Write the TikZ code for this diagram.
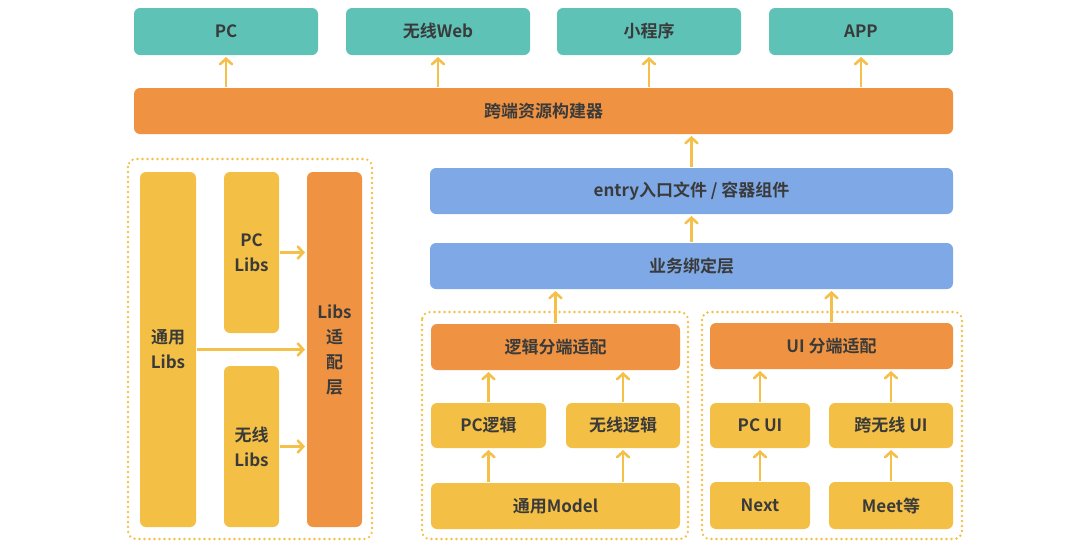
\documentclass[tikz,border=0pt]{standalone}
\usepackage{fontspec}
\setmainfont{Noto Sans CJK SC}[BoldFont={* Bold}]
\usetikzlibrary{arrows.meta}
\definecolor{teal1}{HTML}{5EC2B7}
\definecolor{org1}{HTML}{EF9342}
\definecolor{yel1}{HTML}{F3BF45}
\definecolor{blu1}{HTML}{7FA9E6}
\definecolor{arrc}{HTML}{F5C04A}
\definecolor{txt}{HTML}{3A3A3A}
\tikzset{
  box/.style={rounded corners=6pt, inner sep=0pt, outer sep=0pt, text=txt,
    font=\fontsize{17}{25}\selectfont\bfseries, align=center},
  tealbox/.style={box, fill=teal1},
  orgbox/.style={box, fill=org1},
  yelbox/.style={box, fill=yel1},
  blubox/.style={box, fill=blu1},
  arr/.style={draw=arrc, line width=2.6pt, -{Straight Barb[length=5.5pt,width=12pt,line cap=round]}, shorten >=2pt, shorten <=1pt},
  group/.style={draw=yel1, line width=2.6pt, dash pattern=on 0pt off 5pt, line cap=round, rounded corners=8pt}
}
\begin{document}
\begin{tikzpicture}[x=1pt,y=-1pt]
\useasboundingbox (0,0) rectangle (1080,550);
% groups
\draw[group] (128,159) rectangle (372,539);
\draw[group] (422,312) rectangle (688,539);
\draw[group] (702,312) rectangle (962,539);
% top
\node[tealbox, minimum width=184pt, minimum height=47pt] (pc) at (226,31.5) {PC};
\node[tealbox, minimum width=184pt, minimum height=47pt] (web) at (438,31.5) {无线Web};
\node[tealbox, minimum width=184pt, minimum height=47pt] (mini) at (649,31.5) {小程序};
\node[tealbox, minimum width=184pt, minimum height=47pt] (app) at (861,31.5) {APP};
\node[orgbox, minimum width=819pt, minimum height=46pt] (build) at (543.5,111) {跨端资源构建器};
\node[blubox, minimum width=523pt, minimum height=46pt] (entry) at (691.5,191) {entry入口文件 / 容器组件};
\node[blubox, minimum width=523pt, minimum height=46pt] (bind) at (691.5,266) {业务绑定层};
% left libs
\node[yelbox, minimum width=56pt, minimum height=355pt] (ty) at (168,349.5) {通用\\Libs};
\node[yelbox, minimum width=55pt, minimum height=161pt] (pclibs) at (251.5,252.5) {PC\\Libs};
\node[yelbox, minimum width=55pt, minimum height=161pt] (wllibs) at (251.5,446.5) {无线\\Libs};
\node[orgbox, minimum width=55pt, minimum height=355pt] (libsad) at (334.5,349.5) {Libs\\适\\配\\层};
% logic
\node[orgbox, minimum width=249pt, minimum height=46pt] (logic) at (555.5,347) {逻辑分端适配};
\node[yelbox, minimum width=115pt, minimum height=45pt] (pcl) at (488.5,425.5) {PC逻辑};
\node[yelbox, minimum width=114pt, minimum height=45pt] (wll) at (623,425.5) {无线逻辑};
\node[yelbox, minimum width=249pt, minimum height=46pt] (model) at (555.5,506) {通用Model};
% ui
\node[orgbox, minimum width=243pt, minimum height=46pt] (ui) at (831.5,346) {UI 分端适配};
\node[yelbox, minimum width=100pt, minimum height=45pt] (pcui) at (760,425.5) {PC UI};
\node[yelbox, minimum width=124pt, minimum height=45pt] (kwui) at (891,425.5) {跨无线 UI};
\node[yelbox, minimum width=100pt, minimum height=47pt] (next) at (760,505.5) {Next};
\node[yelbox, minimum width=124pt, minimum height=47pt] (meet) at (891,505.5) {Meet等};
% arrows top
\draw[arr] (pc.south |- build.north) -- (pc.south);
\draw[arr] (web.south |- build.north) -- (web.south);
\draw[arr] (mini.south |- build.north) -- (mini.south);
\draw[arr] (app.south |- build.north) -- (app.south);
\draw[arr] (entry.north) -- (entry.north |- build.south);
\draw[arr] (bind.north) -- (bind.north |- entry.south);
\draw[arr] (logic.north) -- (logic.north |- bind.south);
\draw[arr] (ui.north) -- (ui.north |- bind.south);
% logic arrows
\draw[arr] (pcl.north) -- (pcl.north |- logic.south);
\draw[arr] (wll.north) -- (wll.north |- logic.south);
\draw[arr] (pcl.south |- model.north) -- (pcl.south);
\draw[arr] (wll.south |- model.north) -- (wll.south);
% ui arrows
\draw[arr] (pcui.north) -- (pcui.north |- ui.south);
\draw[arr] (kwui.north) -- (kwui.north |- ui.south);
\draw[arr] (next.north) -- (pcui.south);
\draw[arr] (meet.north) -- (kwui.south);
% libs arrows
\draw[arr] (pclibs.east) -- (pclibs.east -| libsad.west);
\draw[arr] (ty.east) -- (ty.east -| libsad.west);
\draw[arr] (wllibs.east) -- (wllibs.east -| libsad.west);
\end{tikzpicture}
\end{document}
